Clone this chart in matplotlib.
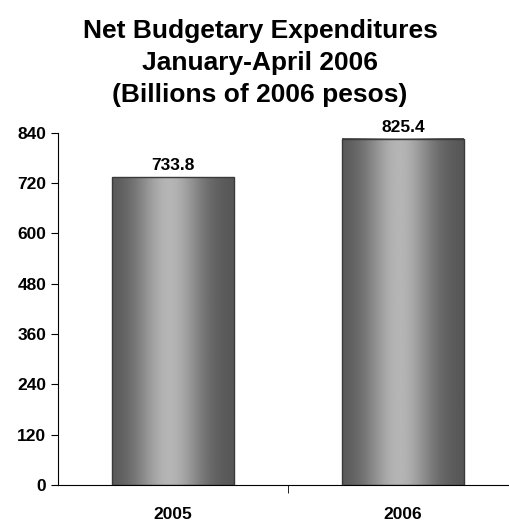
import matplotlib
matplotlib.use("Agg")
import matplotlib.pyplot as plt
import numpy as np

years = ["2005", "2006"]
values = [733.8, 825.4]
yticks = [0, 120, 240, 360, 480, 600, 720, 840]

plt.rcParams['font.family'] = ['Liberation Sans', 'DejaVu Sans']

fig = plt.figure(figsize=(5.09, 5.21), dpi=100)
ax = fig.add_axes([0.114, 0.069, 0.904, 0.676])

x = np.arange(len(years))
bars = ax.bar(x, values, width=0.53, color='none', edgecolor='#3a3a3a', linewidth=1.0, zorder=3)

# horizontal gradient: dark edges, light middle
t = np.linspace(0, 1, 256)
grad = 0.33 + 0.38 * np.exp(-((t - 0.47) / 0.28) ** 2)
grad = grad[np.newaxis, :]
for b in bars:
    x0 = b.get_x()
    ax.imshow(grad, cmap='gray', vmin=0, vmax=1, aspect='auto',
              extent=(x0, x0 + b.get_width(), 0, b.get_height()), zorder=2)
    ax.text(b.get_x() + b.get_width() / 2, b.get_height() + 10, f"{b.get_height():.1f}",
            ha='center', va='bottom', fontsize=12.5, fontweight='bold')

ax.set_xlim(-0.5, 1.5)
ax.set_ylim(0, 840)
ax.set_yticks(yticks)
ax.set_yticklabels([str(v) for v in yticks], fontsize=12.5, fontweight='bold')
ax.set_xticks(x)
ax.set_xticklabels(years, fontsize=12.5, fontweight='bold')
ax.set_xticks([0.5], minor=True)
ax.tick_params(axis='x', which='major', length=0, pad=16)
ax.tick_params(axis='x', which='minor', length=6, direction='out')
ax.tick_params(axis='y', length=5, direction='out')
ax.spines['top'].set_visible(False)
ax.spines['right'].set_visible(False)

fig.text(0.511, 0.963, "Net Budgetary Expenditures\nJanuary-April 2006\n(Billions of 2006 pesos)",
         ha='center', va='top', fontsize=19, fontweight='bold', linespacing=1.42)

fig.savefig("out.png", dpi=100)
